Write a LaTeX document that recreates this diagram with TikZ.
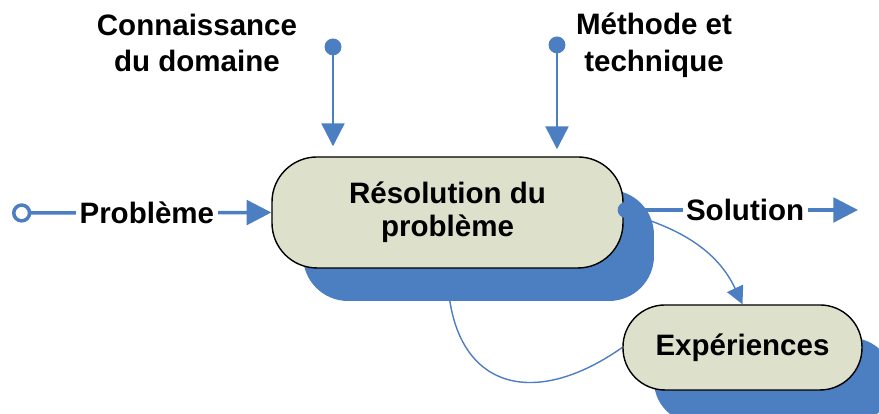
\documentclass[tikz,border=0pt]{standalone}
\usepackage{fontspec}
\setmainfont{Liberation Sans}
\usetikzlibrary{arrows.meta,shadows,backgrounds,positioning}

\definecolor{linkblue}{RGB}{76,126,194}
\definecolor{boxgreen}{RGB}{221,225,203}

\tikzset{
	stage/.style={draw=black, thin, fill=boxgreen, align=center,
		font=\fontsize{8.4pt}{9.4pt}\selectfont\bfseries,
		drop shadow={shadow xshift=0.31cm, shadow yshift=-0.33cm, fill=linkblue, opacity=1}},
	caption/.style={align=center, inner sep=1pt, font=\fontsize{8.4pt}{10.5pt}\selectfont\bfseries},
	feed/.style={draw=linkblue, line width=0.7pt, -{Triangle[length=6.5pt,width=6.5pt]}},
	flow/.style={draw=linkblue, line width=1pt, -{Triangle[length=7pt,width=7pt]}},
	loop/.style={draw=linkblue, line width=0.4pt}
}

\begin{document}
\begin{tikzpicture}
	\useasboundingbox (0,0) rectangle (8.79,4.14);

	%The two process boxes
	\node[stage, minimum width=3.51cm, minimum height=1.11cm, rounded corners=0.45cm] (solve) at (4.475,2.015) {Résolution du\\problème};
	\node[stage, minimum width=2.39cm, minimum height=0.85cm, rounded corners=0.42cm] (exp) at (7.425,0.665) {Expériences};

	%Inputs from above
	\node[caption] (know) at (1.97,3.71) {Connaissance\\du domaine};
	\node[caption] (meth) at (6.54,3.69) {Méthode et\\technique};
	\coordinate (knowdot) at (3.33,3.755);
	\coordinate (methdot) at (5.57,3.775);
	\draw[feed, {Circle[length=4.8pt]}-{Triangle[length=6.5pt,width=6.5pt]}, shorten >=0.1cm] (knowdot) -- (knowdot |- solve.north);
	\draw[feed, {Circle[length=4.8pt]}-{Triangle[length=6.5pt,width=6.5pt]}, shorten >=0.07cm] (methdot) -- (methdot |- solve.north);

	%Problem in, solution out
	\coordinate (probstart) at (0.12,2.01);
	\coordinate (solend) at (8.58,2.04);
	\draw[flow, {Circle[open,length=5.5pt]}-{Triangle[length=7pt,width=7pt]}] (probstart) -- node[caption, fill=white, pos=0.52] (prob) {Problème} (solve.west);
	\draw[flow, {Circle[length=4.5pt]}-{Triangle[length=7pt,width=7pt]}] ([xshift=-0.06cm,yshift=0.025cm]solve.east) -- node[caption, fill=white, pos=0.53] (sol) {Solution} (solend);

	%Loop through the experiments
	\begin{scope}[on background layer]
		\draw[loop, -{Triangle[length=5pt,width=5pt]}] (solve.east) to[out=-15, in=115] (exp.north);
		\draw[loop] (exp.west) to[out=215, in=-90, looseness=1.55] (solve.south);
	\end{scope}
\end{tikzpicture}
\end{document}
